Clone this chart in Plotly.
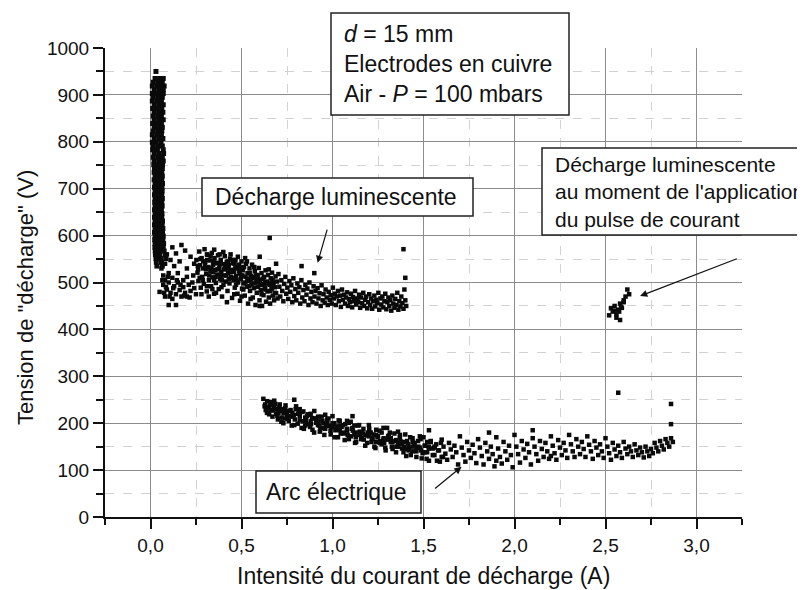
import plotly.graph_objects as go

# ---------------- data ----------------
# Vertical glow band at very low current: (voltage, [currents])
band_rows = [
    (935, [0.025, 0.05, 0.07]), (927, [0.015, 0.04, 0.065]), (919, [0.01, 0.035, 0.06, 0.075]),
    (911, [0.02, 0.045, 0.07]), (903, [0.01, 0.03, 0.055, 0.07]), (895, [0.015, 0.04, 0.065]),
    (887, [0.01, 0.035, 0.06]), (879, [0.02, 0.045, 0.07]), (871, [0.012, 0.038, 0.062]),
    (863, [0.02, 0.045, 0.068]), (855, [0.015, 0.04, 0.06]), (847, [0.02, 0.045, 0.07]),
    (839, [0.012, 0.035, 0.06]), (831, [0.02, 0.042, 0.065]), (823, [0.015, 0.04, 0.062]),
    (815, [0.01, 0.035, 0.06]), (807, [0.02, 0.045, 0.068]), (799, [0.01, 0.032, 0.058]),
    (791, [0.015, 0.04, 0.065]), (783, [0.012, 0.038, 0.07]), (775, [0.02, 0.045, 0.072]),
    (767, [0.015, 0.04, 0.065]), (759, [0.02, 0.045, 0.07]), (751, [0.018, 0.042, 0.066]),
    (743, [0.022, 0.046, 0.065]), (735, [0.02, 0.04, 0.062]), (727, [0.025, 0.045, 0.065]),
    (719, [0.02, 0.042, 0.062]), (711, [0.025, 0.048, 0.066]), (703, [0.022, 0.044, 0.063]),
    (695, [0.025, 0.045, 0.064]), (687, [0.022, 0.042, 0.062]), (679, [0.025, 0.047, 0.065]),
    (671, [0.023, 0.044, 0.062]), (663, [0.025, 0.046, 0.064]), (655, [0.022, 0.043, 0.06]),
    (647, [0.025, 0.045, 0.063]), (639, [0.022, 0.044, 0.062]), (631, [0.025, 0.047, 0.066]),
    (623, [0.022, 0.043, 0.064]), (615, [0.025, 0.046, 0.068]), (607, [0.022, 0.044, 0.066]),
    (599, [0.025, 0.047, 0.07]), (591, [0.023, 0.045, 0.068]), (583, [0.025, 0.048, 0.072]),
    (575, [0.024, 0.046, 0.07]), (567, [0.026, 0.05, 0.075]), (559, [0.027, 0.05, 0.08]),
    (551, [0.03, 0.055, 0.085]), (543, [0.032, 0.06]), (535, [0.035, 0.065]),
]
band_extra = [(0.03, 950)]

# Glow discharge cloud (current A, voltage V)
glow_dense = [
    (0.252, 548), (0.258, 521), (0.263, 503), (0.268, 566), (0.271, 537), (0.276, 489), (0.281, 552),
    (0.284, 512), (0.289, 530), (0.293, 497), (0.297, 571), (0.301, 544), (0.306, 518), (0.309, 481),
    (0.313, 559), (0.318, 533), (0.321, 505), (0.326, 547), (0.329, 524), (0.333, 492), (0.337, 563),
    (0.341, 511), (0.344, 538), (0.349, 476), (0.352, 552), (0.356, 527), (0.359, 499), (0.364, 541),
    (0.367, 517), (0.371, 558), (0.375, 486), (0.378, 531), (0.382, 507), (0.386, 548), (0.389, 522),
    (0.393, 470), (0.397, 539), (0.401, 495), (0.404, 515), (0.408, 556), (0.412, 529), (0.415, 502),
    (0.419, 544), (0.423, 482), (0.426, 520), (0.430, 537), (0.434, 498), (0.437, 551), (0.441, 512),
    (0.445, 527), (0.448, 467), (0.452, 541), (0.456, 505), (0.459, 523), (0.463, 489), (0.467, 548),
    (0.470, 514), (0.474, 532), (0.478, 476), (0.481, 500), (0.485, 538), (0.489, 519), (0.492, 461),
    (0.496, 507), (0.500, 545), (0.503, 487), (0.507, 526), (0.511, 498), (0.514, 533), (0.518, 472),
    (0.522, 512), (0.525, 540), (0.529, 491), (0.533, 520), (0.536, 455), (0.540, 503), (0.544, 530),
    (0.547, 482), (0.551, 514), (0.555, 496), (0.558, 538), (0.562, 468), (0.566, 509), (0.569, 488),
    (0.573, 524), (0.577, 452), (0.580, 500), (0.584, 478), (0.588, 516), (0.591, 491), (0.595, 531),
    (0.599, 462), (0.602, 506), (0.606, 484), (0.610, 520), (0.613, 450), (0.617, 497), (0.621, 473),
    (0.624, 512), (0.628, 488), (0.632, 526), (0.635, 459), (0.639, 502), (0.643, 481), (0.646, 516),
    (0.650, 468), (0.654, 495), (0.657, 455), (0.661, 509), (0.665, 486), (0.668, 521), (0.672, 472),
    (0.676, 499), (0.679, 462), (0.683, 490), (0.687, 513), (0.690, 477), (0.694, 502), (0.698, 466),
    (0.27, 510), (0.29, 545), (0.31, 492), (0.33, 556), (0.35, 505), (0.37, 542), (0.39, 490),
    (0.41, 535), (0.43, 508), (0.45, 548), (0.47, 495), (0.49, 530), (0.51, 485), (0.53, 545),
    (0.55, 506), (0.57, 533), (0.59, 510), (0.61, 475), (0.63, 500), (0.65, 528), (0.67, 490),
    (0.31, 560), (0.35, 570), (0.40, 565), (0.44, 560), (0.48, 555), (0.52, 552), (0.28, 475),
    (0.32, 470), (0.36, 478), (0.42, 458), (0.46, 475), (0.50, 470), (0.55, 465), (0.60, 450),
    (0.38, 560), (0.34, 486), (0.26, 535), (0.305, 528), (0.345, 522), (0.385, 515), (0.425, 545),
    (0.465, 530), (0.505, 515), (0.545, 520), (0.585, 505), (0.625, 495), (0.665, 500),
    (0.262, 528), (0.274, 550), (0.287, 505), (0.299, 535), (0.311, 548), (0.323, 515), (0.335, 530),
    (0.347, 545), (0.358, 512), (0.369, 528), (0.381, 540), (0.392, 505), (0.403, 528), (0.414, 515),
    (0.428, 530), (0.439, 522), (0.451, 510), (0.462, 540), (0.473, 505), (0.487, 525), (0.498, 515),
    (0.509, 532), (0.521, 500), (0.532, 508), (0.543, 492), (0.556, 512), (0.567, 498), (0.579, 515),
    (0.592, 502), (0.604, 495), (0.618, 508), (0.631, 485), (0.645, 498), (0.658, 482), (0.671, 505),
    (0.684, 478),
]
glow_tail = [
    (0.703, 518), (0.708, 491), (0.713, 470), (0.719, 505), (0.724, 482), (0.730, 460), (0.735, 497),
    (0.741, 512), (0.746, 476), (0.752, 489), (0.757, 465), (0.763, 503), (0.768, 480), (0.774, 494),
    (0.779, 458), (0.785, 509), (0.790, 471), (0.796, 486), (0.801, 462), (0.807, 498), (0.812, 478),
    (0.818, 490), (0.823, 455), (0.829, 505), (0.834, 468), (0.840, 484), (0.846, 460), (0.851, 495),
    (0.857, 474), (0.862, 487), (0.868, 452), (0.873, 500), (0.879, 466), (0.884, 480), (0.890, 458),
    (0.896, 492), (0.901, 470), (0.907, 482), (0.912, 455), (0.918, 488), (0.923, 466), (0.929, 477),
    (0.935, 450), (0.940, 494), (0.946, 462), (0.951, 475), (0.957, 457), (0.962, 485), (0.968, 468),
    (0.974, 452), (0.979, 480), (0.985, 463), (0.990, 473), (0.996, 455), (1.002, 489), (1.007, 466),
    (1.013, 476), (1.018, 452), (1.024, 470), (1.030, 482), (1.035, 460), (1.041, 472), (1.046, 448),
    (1.052, 485), (1.057, 463), (1.063, 474), (1.069, 455), (1.074, 468), (1.080, 479), (1.085, 450),
    (1.091, 465), (1.096, 458), (1.102, 476), (1.108, 447), (1.113, 469), (1.119, 460), (1.124, 482),
    (1.130, 453), (1.135, 466), (1.141, 458), (1.146, 474), (1.152, 446), (1.157, 468), (1.163, 456),
    (1.169, 478), (1.174, 450), (1.180, 463), (1.185, 470), (1.191, 445), (1.196, 458), (1.202, 475),
    (1.207, 452), (1.213, 466), (1.218, 444), (1.224, 460), (1.230, 472), (1.235, 449), (1.241, 463),
    (1.246, 456), (1.252, 478), (1.257, 442), (1.263, 466), (1.268, 453), (1.274, 470), (1.279, 447),
    (1.285, 460), (1.290, 476), (1.296, 443), (1.301, 458), (1.307, 468), (1.312, 450), (1.318, 462),
    (1.323, 440), (1.329, 472), (1.334, 455), (1.340, 446), (1.345, 465), (1.351, 452), (1.356, 478),
    (1.362, 442), (1.367, 460), (1.373, 449), (1.378, 470), (1.384, 456), (1.390, 444), (1.395, 485),
    (1.400, 462), (1.405, 450),
]
glow_low_branch = [
    (0.06, 530), (0.07, 515), (0.08, 505), (0.07, 495), (0.09, 485), (0.10, 520), (0.10, 500),
    (0.11, 478), (0.12, 465), (0.10, 452), (0.12, 510), (0.13, 492), (0.14, 475), (0.15, 520),
    (0.15, 500), (0.16, 484), (0.17, 470), (0.18, 505), (0.18, 490), (0.19, 478), (0.20, 512),
    (0.21, 495), (0.22, 482), (0.23, 500), (0.24, 488), (0.08, 540), (0.09, 560), (0.12, 575),
    (0.14, 562), (0.17, 580), (0.19, 568), (0.06, 550), (0.05, 565), (0.11, 548), (0.13, 535),
    (0.16, 545), (0.20, 530), (0.22, 555), (0.24, 540), (0.14, 452), (0.08, 470), (0.05, 480),
    (0.20, 470), (0.25, 475), (0.065, 505), (0.085, 490), (0.105, 470), (0.125, 488), (0.145, 505),
    (0.165, 495), (0.185, 472), (0.215, 468), (0.235, 515), (0.075, 478), (0.095, 512),
]
glow_outliers = [(0.655, 595), (1.39, 571), (1.40, 510), (0.83, 535), (0.69, 540), (0.60, 555), (0.90, 520)]

# Glow discharge at the moment of the current pulse
pulse_pts = [
    (2.53, 445), (2.54, 438), (2.55, 450), (2.56, 432), (2.57, 442), (2.58, 455), (2.59, 446),
    (2.56, 425), (2.60, 462), (2.61, 470), (2.62, 485), (2.63, 475), (2.575, 438), (2.585, 448),
    (2.55, 440), (2.58, 420), (2.60, 458), (2.52, 430),
]

# Electric arc
arc_pts = [
    (0.62, 252), (0.63, 240), (0.64, 232), (0.64, 222), (0.66, 245), (0.66, 228), (0.67, 214),
    (0.68, 236), (0.69, 220), (0.70, 208), (0.71, 240), (0.72, 226), (0.72, 212), (0.73, 200),
    (0.74, 232), (0.75, 218), (0.76, 205), (0.77, 228), (0.78, 214), (0.79, 196), (0.80, 236),
    (0.81, 220), (0.82, 206), (0.83, 190), (0.84, 225), (0.85, 212), (0.86, 198), (0.87, 218),
    (0.88, 204), (0.89, 186), (0.90, 226), (0.91, 210), (0.92, 196), (0.93, 182), (0.94, 214),
    (0.95, 200), (0.96, 188), (0.97, 208), (0.98, 194), (0.99, 176), (1.00, 215), (1.01, 200),
    (1.02, 186), (1.03, 170), (1.04, 205), (1.05, 192), (1.06, 178), (1.07, 198), (1.08, 184),
    (1.09, 166), (1.10, 203), (1.11, 190), (1.12, 176), (1.13, 160), (1.14, 195), (1.15, 182),
    (1.16, 168), (1.17, 188), (1.18, 175), (1.19, 158), (1.20, 196), (1.21, 180), (1.22, 166),
    (1.23, 150), (1.24, 186), (1.25, 172), (1.26, 158), (1.27, 180), (1.28, 165), (1.29, 148),
    (1.30, 190), (1.31, 174), (1.32, 160), (1.33, 145), (1.34, 178), (1.35, 164), (1.36, 150),
    (1.37, 170), (1.38, 156), (1.39, 138), (1.40, 176), (1.41, 162), (1.42, 148), (1.43, 132),
    (1.44, 168), (1.45, 154), (1.46, 140), (1.47, 162), (1.48, 148), (1.49, 125), (1.50, 170),
    (1.51, 152), (1.52, 138), (1.53, 120), (1.54, 160), (1.55, 146), (1.56, 132), (1.57, 155),
    (1.58, 142), (1.59, 118), (1.60, 165), (1.61, 150), (1.62, 135), (1.63, 122), (1.64, 158),
    (1.65, 144), (1.66, 128), (1.67, 152), (1.68, 138), (1.69, 112), (1.70, 172), (1.71, 148),
    (1.72, 132), (1.73, 118), (1.74, 160), (1.75, 142), (1.76, 126), (1.77, 154), (1.78, 136),
    (1.79, 115), (1.80, 166), (1.81, 148), (1.82, 130), (1.83, 112), (1.84, 158), (1.85, 140),
    (1.86, 124), (1.87, 150), (1.88, 134), (1.89, 108), (1.90, 170), (1.91, 146), (1.92, 128),
    (1.93, 114), (1.94, 160), (1.95, 140), (1.96, 122), (1.97, 152), (1.98, 132), (1.99, 106),
    (2.00, 175), (2.01, 150), (2.02, 134), (2.03, 116), (2.04, 162), (2.05, 144), (2.06, 126),
    (2.07, 156), (2.08, 138), (2.09, 112), (2.10, 168), (2.11, 150), (2.12, 134), (2.13, 120),
    (2.14, 162), (2.15, 145), (2.16, 128), (2.17, 158), (2.18, 140), (2.19, 124), (2.20, 172),
    (2.21, 152), (2.22, 136), (2.23, 122), (2.24, 164), (2.25, 148), (2.26, 132), (2.27, 158),
    (2.28, 142), (2.29, 126), (2.30, 175), (2.31, 155), (2.32, 140), (2.33, 128), (2.34, 166),
    (2.35, 150), (2.36, 134), (2.37, 160), (2.38, 145), (2.39, 128), (2.40, 172), (2.41, 154),
    (2.42, 140), (2.43, 124), (2.44, 162), (2.45, 148), (2.46, 132), (2.47, 155), (2.48, 140),
    (2.49, 126), (2.50, 168), (2.51, 150), (2.52, 136), (2.53, 122), (2.54, 158), (2.55, 144),
    (2.56, 130), (2.57, 152), (2.58, 138), (2.59, 126), (2.60, 160), (2.61, 146), (2.62, 134),
    (2.63, 150), (2.64, 140), (2.65, 128), (2.66, 155), (2.67, 142), (2.68, 132), (2.69, 148),
    (2.70, 138), (2.71, 127), (2.72, 150), (2.73, 140), (2.74, 130), (2.75, 145), (2.76, 136),
    (2.77, 158), (2.78, 148), (2.79, 140), (2.80, 162), (2.81, 152), (2.82, 144), (2.83, 166),
    (2.84, 158), (2.85, 150), (2.86, 168), (2.87, 160),
]
arc_dense = [
    (0.627, 236), (0.641, 247), (0.652, 219), (0.663, 238), (0.674, 227), (0.686, 241), (0.697, 216),
    (0.708, 233), (0.719, 203), (0.731, 221), (0.742, 238), (0.753, 209), (0.764, 226), (0.776, 195),
    (0.787, 217), (0.798, 230), (0.809, 199), (0.820, 215), (0.832, 224), (0.843, 188), (0.854, 206),
    (0.865, 219), (0.877, 192), (0.888, 211), (0.899, 180), (0.910, 201), (0.921, 214), (0.933, 187),
    (0.944, 205), (0.955, 175), (0.966, 196), (0.978, 210), (0.989, 184), (1.000, 200), (1.011, 170),
    (1.022, 193), (1.034, 206), (1.045, 178), (1.056, 196), (1.067, 164), (1.079, 188), (1.090, 201),
    (1.101, 172), (1.112, 184), (1.124, 158), (1.135, 180), (1.146, 196), (1.157, 166), (1.169, 178),
    (1.180, 152), (1.191, 174), (1.202, 188), (1.214, 160), (1.225, 176), (1.236, 147), (1.247, 170),
    (1.259, 184), (1.270, 155), (1.281, 168), (1.292, 142), (1.304, 165), (1.315, 180), (1.326, 150),
    (1.337, 162), (1.349, 138), (1.360, 158), (1.371, 175), (1.382, 146), (1.394, 160), (1.405, 130),
    (1.416, 155), (1.427, 170), (1.439, 140), (1.450, 158), (1.461, 128), (1.472, 150), (1.484, 166),
    (1.495, 136), (1.506, 152), (1.517, 124), (1.529, 146), (1.540, 162), (1.551, 132), (1.562, 148),
    (1.574, 120), (1.585, 142), (1.596, 158), (1.607, 128),
    (0.65, 235), (0.68, 248), (0.70, 230), (0.74, 210), (0.78, 222), (0.82, 230), (0.85, 195),
    (0.88, 220), (0.92, 204), (0.96, 218), (1.00, 192), (1.04, 185), (1.08, 205), (1.12, 195),
    (1.16, 180), (1.20, 172), (1.24, 160), (1.28, 190), (1.32, 168), (1.36, 182), (1.40, 145),
    (1.44, 150), (1.48, 172), (1.52, 160), (1.56, 150), (1.60, 128), (0.79, 250), (1.11, 215),
    (1.53, 185), (1.86, 180), (2.10, 185), (2.20, 130), (1.90, 120),
    (0.633, 228), (0.658, 242), (0.681, 230), (0.703, 222), (0.726, 230), (0.748, 225), (0.771, 215),
    (0.793, 208), (0.815, 222), (0.838, 204), (0.860, 215), (0.882, 198), (0.905, 210), (0.927, 195),
    (0.949, 190), (0.972, 200), (0.994, 192), (1.016, 185), (1.039, 195), (1.061, 180), (1.083, 175),
    (1.106, 188), (1.128, 170), (1.150, 175), (1.172, 165), (1.195, 180), (1.217, 168), (1.240, 175),
    (1.262, 162), (1.284, 158), (1.306, 172), (1.329, 160), (1.351, 150), (1.373, 162), (1.395, 150),
    (1.418, 142), (1.440, 160), (1.462, 148), (1.485, 142), (1.507, 138), (1.530, 150),
]
arc_outliers = [(2.57, 265), (2.86, 241), (2.86, 198)]

x_tickvals = [0.0, 0.5, 1.0, 1.5, 2.0, 2.5, 3.0]
x_ticktext = ["0,0", "0,5", "1,0", "1,5", "2,0", "2,5", "3,0"]
y_tickvals = [0, 100, 200, 300, 400, 500, 600, 700, 800, 900, 1000]

x_title = "Intensité du courant de décharge (A)"
y_title = 'Tension de "décharge" (V)'
box_params = "<i>d</i> = 15 mm<br>Electrodes en cuivre<br>Air - <i>P</i> = 100 mbars"
box_glow = "Décharge luminescente"
box_pulse = "Décharge luminescente<br>au moment de l'application<br>du pulse de courant"
box_arc = "Arc électrique"

# ---------------- assemble series ----------------
band_x = [x for v, xs in band_rows for x in xs] + [p[0] for p in band_extra]
band_y = [v for v, xs in band_rows for x in xs] + [p[1] for p in band_extra]
glow_pts = glow_dense + glow_tail + glow_low_branch + glow_outliers
arc_all = arc_pts + arc_dense + arc_outliers

FONT = "Liberation Sans, Arial, sans-serif"
marker = dict(symbol="square", size=4.5, color="#0a0a0a", line=dict(width=0))

fig = go.Figure()
fig.add_trace(go.Scatter(x=band_x, y=band_y, mode="markers",
                         marker=dict(symbol="square", size=5, color="#0a0a0a", line=dict(width=0)),
                         showlegend=False))
fig.add_trace(go.Scatter(x=[p[0] for p in glow_pts], y=[p[1] for p in glow_pts], mode="markers",
                         marker=marker, showlegend=False))
fig.add_trace(go.Scatter(x=[p[0] for p in pulse_pts], y=[p[1] for p in pulse_pts], mode="markers",
                         marker=marker, showlegend=False))
fig.add_trace(go.Scatter(x=[p[0] for p in arc_all], y=[p[1] for p in arc_all], mode="markers",
                         marker=marker, showlegend=False))

# The page body adds an 8px offset; layout is expressed in page pixels.
OFF = 8
W, H = 805 - OFF, 590 - OFF
PL, PR, PT, PB = 105, 742, 48, 517          # plot area in page pixels
def fx(p):
    return (p - PL) / (PR - PL)
def fy(p):
    return (PB - p) / (PB - PT)

shapes = []
annotations = []
def textbox(x0, y0, x1, y1, tx, text, size):
    shapes.append(dict(type="rect", xref="paper", yref="paper", x0=fx(x0), x1=fx(x1),
                       y0=fy(y1), y1=fy(y0), line=dict(color="#222", width=1.5),
                       fillcolor="white", layer="above"))
    annotations.append(dict(xref="paper", yref="paper", x=fx(tx), y=fy((y0 + y1) / 2),
                            xanchor="left", yanchor="middle", align="left", showarrow=False,
                            text=text, font=dict(family=FONT, size=size, color="#111")))

textbox(331, 13, 569, 115, 342, box_params, 23)
textbox(202, 178, 473, 216, 213, box_glow, 23)
textbox(542, 148, 812, 235, 553, box_pulse, 21)
textbox(256, 471, 421, 513, 264, box_arc, 23)

def arrow(head, tail):
    annotations.append(dict(x=head[0], y=head[1], ax=tail[0], ay=tail[1], xref="x", yref="y",
                            axref="x", ayref="y", text="", showarrow=True, arrowhead=2,
                            arrowsize=1.2, arrowwidth=1.2, arrowcolor="#111", standoff=0))

arrow((0.918, 542), (0.973, 616))
arrow((2.69, 471), (3.23, 552))
arrow((1.709, 107), (1.555, 58))

annotations.append(dict(xref="paper", yref="paper", x=fx(423), y=fy(576), text=x_title,
                        showarrow=False, xanchor="center", yanchor="middle",
                        font=dict(family=FONT, size=23, color="#111")))
annotations.append(dict(xref="paper", yref="paper", x=fx(25), y=fy(298), text=y_title,
                        showarrow=False, xanchor="center", yanchor="middle", textangle=-90,
                        font=dict(family=FONT, size=22, color="#111")))

fig.update_layout(
    width=W, height=H,
    margin=dict(l=PL - OFF, r=W - (PR - OFF), t=PT - OFF, b=H - (PB - OFF), autoexpand=False),
    paper_bgcolor="white", plot_bgcolor="white",
    font=dict(family=FONT, size=19, color="#111"),
    shapes=shapes, annotations=annotations,
    xaxis=dict(range=[-0.25, 3.25], tickmode="array", tickvals=x_tickvals, ticktext=x_ticktext,
               showline=True, linecolor="#111", linewidth=2, ticks="outside", ticklen=10,
               tickwidth=2, tickcolor="#111", showgrid=True, gridcolor="#8c8c8c", gridwidth=1,
               zeroline=False, tickfont=dict(size=19),
               minor=dict(dtick=0.25, tick0=0, ticks="outside", ticklen=6, tickwidth=1.5,
                          tickcolor="#111", showgrid=True, gridcolor="#d2d2d2", griddash="dash",
                          gridwidth=1)),
    yaxis=dict(range=[0, 1000], tickmode="array", tickvals=y_tickvals,
               showline=True, linecolor="#111", linewidth=2, ticks="outside", ticklen=10,
               tickwidth=2, tickcolor="#111", showgrid=True, gridcolor="#8c8c8c", gridwidth=1,
               zeroline=False, tickfont=dict(size=19),
               minor=dict(dtick=50, tick0=0, ticks="outside", ticklen=7, tickwidth=1.5,
                          tickcolor="#111", showgrid=True, gridcolor="#d2d2d2", griddash="dash",
                          gridwidth=1)),
)

fig.write_html("out.html")
